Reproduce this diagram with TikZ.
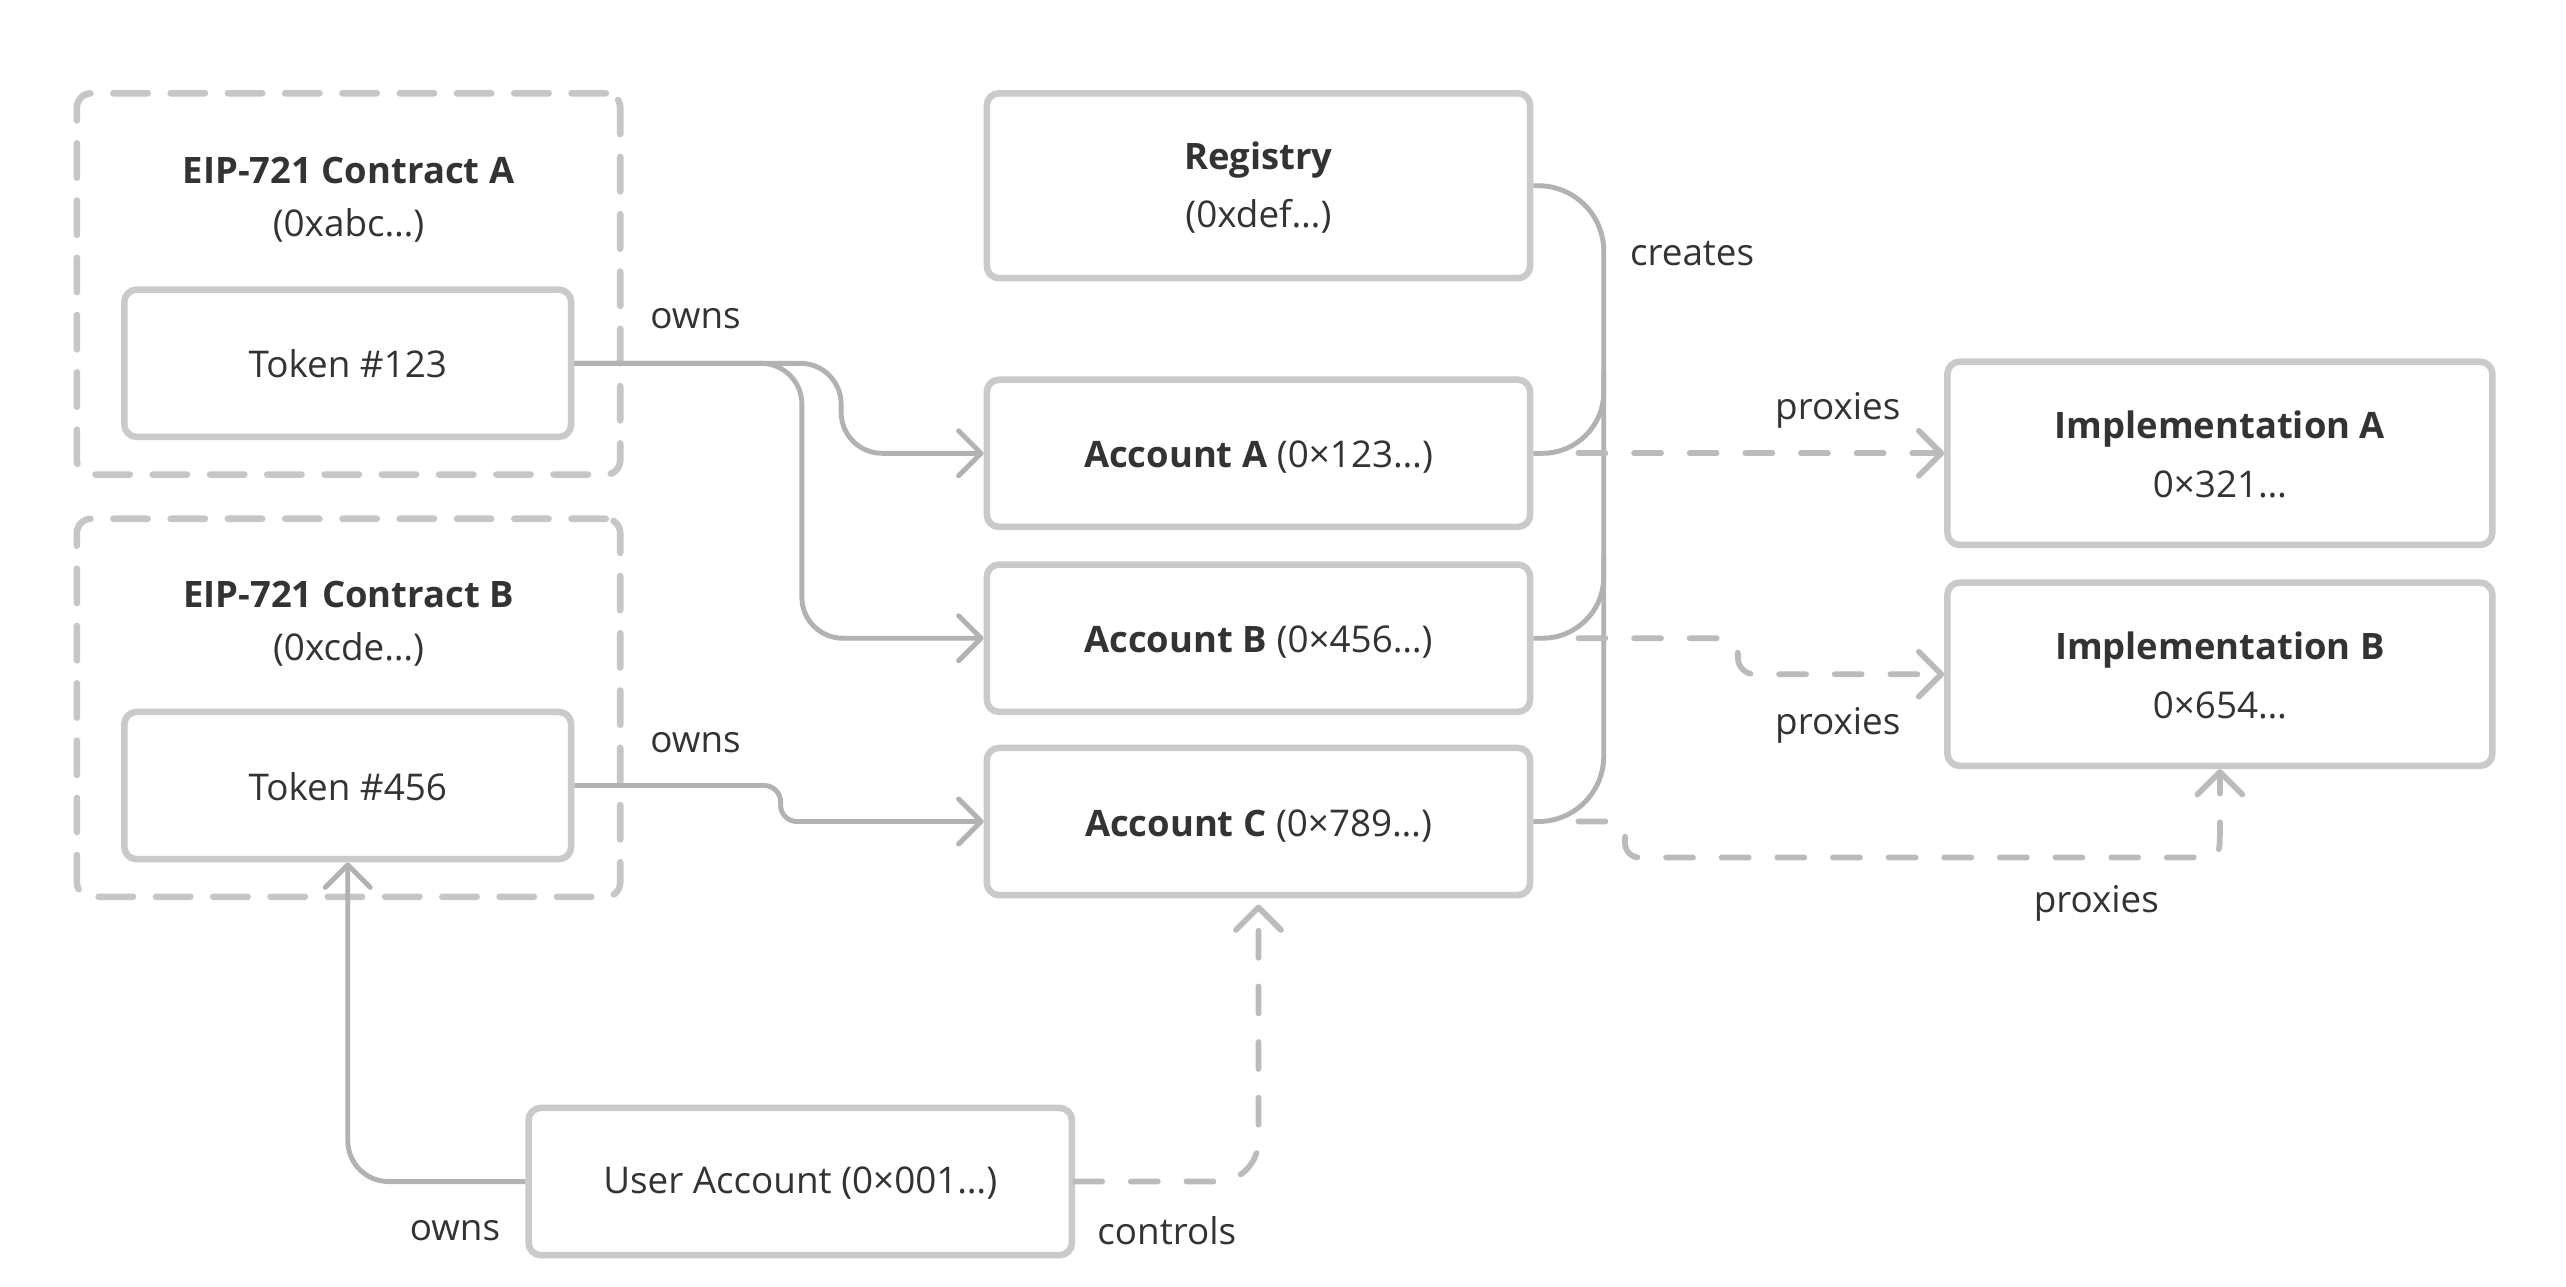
\documentclass[tikz,border=0pt]{standalone}
\usepackage{fontspec}
\setmainfont{Open Sans}
\usetikzlibrary{arrows.meta,calc}
\definecolor{boxc}{HTML}{CACACA}
\definecolor{dashc}{HTML}{C6C6C6}
\definecolor{linec}{HTML}{B2B2B2}
\definecolor{dlinec}{HTML}{BBBBBB}
\definecolor{txt}{HTML}{333333}
\begin{document}
\begin{tikzpicture}[x=0.8pt,y=-0.8pt,
  txtf/.style={font=\fontsize{18}{22}\selectfont},
  bf/.style={font=\fontsize{17.8}{22}\selectfont\bfseries},
  box/.style={draw=boxc, line width=3.2pt, rounded corners=6pt, minimum width=265.6pt, minimum height=72pt, inner sep=0pt, text=txt, txtf},
  tokbox/.style={box, minimum width=218.4pt},
  grp/.style={draw=dashc, line width=3.2pt, rounded corners=7pt, minimum width=265.6pt, inner sep=0pt, line cap=round, dash pattern=on 16.8pt off 11.2pt},
  lbl/.style={text=txt, inner sep=0pt, txtf},
  conn/.style={draw=linec, line width=2.4pt},
  dconn/.style={draw=dlinec, line width=2.8pt, line cap=round, dash pattern=on 13.2pt off 14pt},
  tip/.style={-{Straight Barb[length=11pt,width=22pt,round]}}
]
\fill[white] (0,0) rectangle (1568,786);
\useasboundingbox (0,0) rectangle (1568,786);

% groups
\node[grp, minimum height=186.4pt] (ga) at (213,173.5) {};
\node[grp, minimum height=184.8pt] (gb) at (213,432.5) {};
\node[lbl, bf] (gat) at (213,104) {EIP-721 Contract A};
\node[lbl] (gas) at (213,138) {(0xabc…)};
\node[lbl, bf] (gbt) at (213,363) {EIP-721 Contract B};
\node[lbl] (gbs) at (213,397) {(0xcde…)};

% boxes
\node[tokbox] (t1) at (212.5,222) {};
\node[lbl] (t1t) at (212.5,222) {Token \#123};
\node[tokbox] (t2) at (212.5,480) {};
\node[lbl] (t2t) at (212.5,481) {Token \#456};
\node[box, minimum height=90.4pt] (r) at (769,113.5) {};
\node[lbl, bf] (rt) at (769,98) {Registry};
\node[lbl] (rs) at (769,132) {(0xdef…)};
\node[box] (a) at (769,277) {};
\node[lbl] (at) at (769,279.5) {\textbf{\fontsize{17.8}{22}\selectfont Account A} (0×123…)};
\node[box] (b) at (769,390) {};
\node[lbl] (bt) at (769,392.5) {\textbf{\fontsize{17.8}{22}\selectfont Account B} (0×456…)};
\node[box] (c) at (769,502) {};
\node[lbl] (ct) at (769,504.5) {\textbf{\fontsize{17.8}{22}\selectfont Account C} (0×789…)};
\node[box, minimum width=266.4pt, minimum height=89.6pt] (i1) at (1356.5,277) {};
\node[lbl, bf] (i1t) at (1356.5,262) {Implementation A};
\node[lbl] (i1s) at (1356.5,296) {0×321…};
\node[box, minimum width=266.4pt, minimum height=89.6pt] (i2) at (1356.5,412) {};
\node[lbl, bf] (i2t) at (1356.5,397) {Implementation B};
\node[lbl] (i2s) at (1356.5,431) {0×654…};
\node[box] (u) at (489,722) {};
\node[lbl] (ut) at (489,723) {User Account (0×001…)};

% helper coordinates
\coordinate (c1) at (514,0);
\coordinate (c2) at (490,0);
\coordinate (c3) at (477,0);
\coordinate (c6) at (980,0);
\coordinate (c8) at (1062,0);
\coordinate (c9) at (993,0);
\coordinate (c9b) at (0,524);
\coordinate (k1) at (1330,524);
\coordinate (k2) at (1356.5,498);

% owns edges
\draw[conn,tip,rounded corners=20pt] (t1.east) -- (t1.east -| c1) -- (a.west -| c1) -- (a.west);
\draw[conn,tip,rounded corners=20pt] (t1.east) -- (t1.east -| c2) -- (b.west -| c2) -- (b.west);
\draw[conn,tip,rounded corners=8pt] (t2.east) -- (t2.east -| c3) -- (c.west -| c3) -- (c.west);
\draw[conn,tip,rounded corners=20pt] (u.west) -- (u.west -| t2.south) -- (t2.south);

% controls
\draw[dconn,tip,rounded corners=20pt,shorten >=3pt] (u.east) -- (u.east -| c.south) -- (c.south);

% creates
\draw[conn,rounded corners=32pt] (r.east) -- (r.east -| c6) -- (c.east -| c6) -- (c.east);
\draw[conn,rounded corners=30pt] ($(a.east -| c6)+(0,-50)$) -- (a.east -| c6) -- (a.east);
\draw[conn,rounded corners=30pt] ($(b.east -| c6)+(0,-50)$) -- (b.east -| c6) -- (b.east);

% proxies
\draw[dconn,tip,dash phase=13.2pt,shorten <=8pt] (a.east) -- (i1.west);
\draw[dconn,tip,rounded corners=8pt,dash phase=13.2pt,shorten <=8pt] (b.east) -- (b.east -| c8) -- (i2.west -| c8) -- (i2.west);
\draw[dconn,tip,rounded corners=7pt,dash phase=13.2pt,shorten <=8pt] (c.east) -- (c.east -| c9) -- (c9 |- c9b) -- (k1) .. controls (i2.south |- k1) .. (k2) -- (i2.south);

% labels
\node[lbl] (l1) at (425,195) {owns};
\node[lbl] (l2) at (425,454) {owns};
\node[lbl] (l3) at (1034,155) {creates};
\node[lbl] (l4) at (1123,251) {proxies};
\node[lbl] (l5) at (1123,443) {proxies};
\node[lbl] (l6) at (1281,552) {proxies};
\node[lbl] (l7) at (278,752) {owns};
\node[lbl] (l8) at (713,752) {controls};
\end{tikzpicture}
\end{document}
